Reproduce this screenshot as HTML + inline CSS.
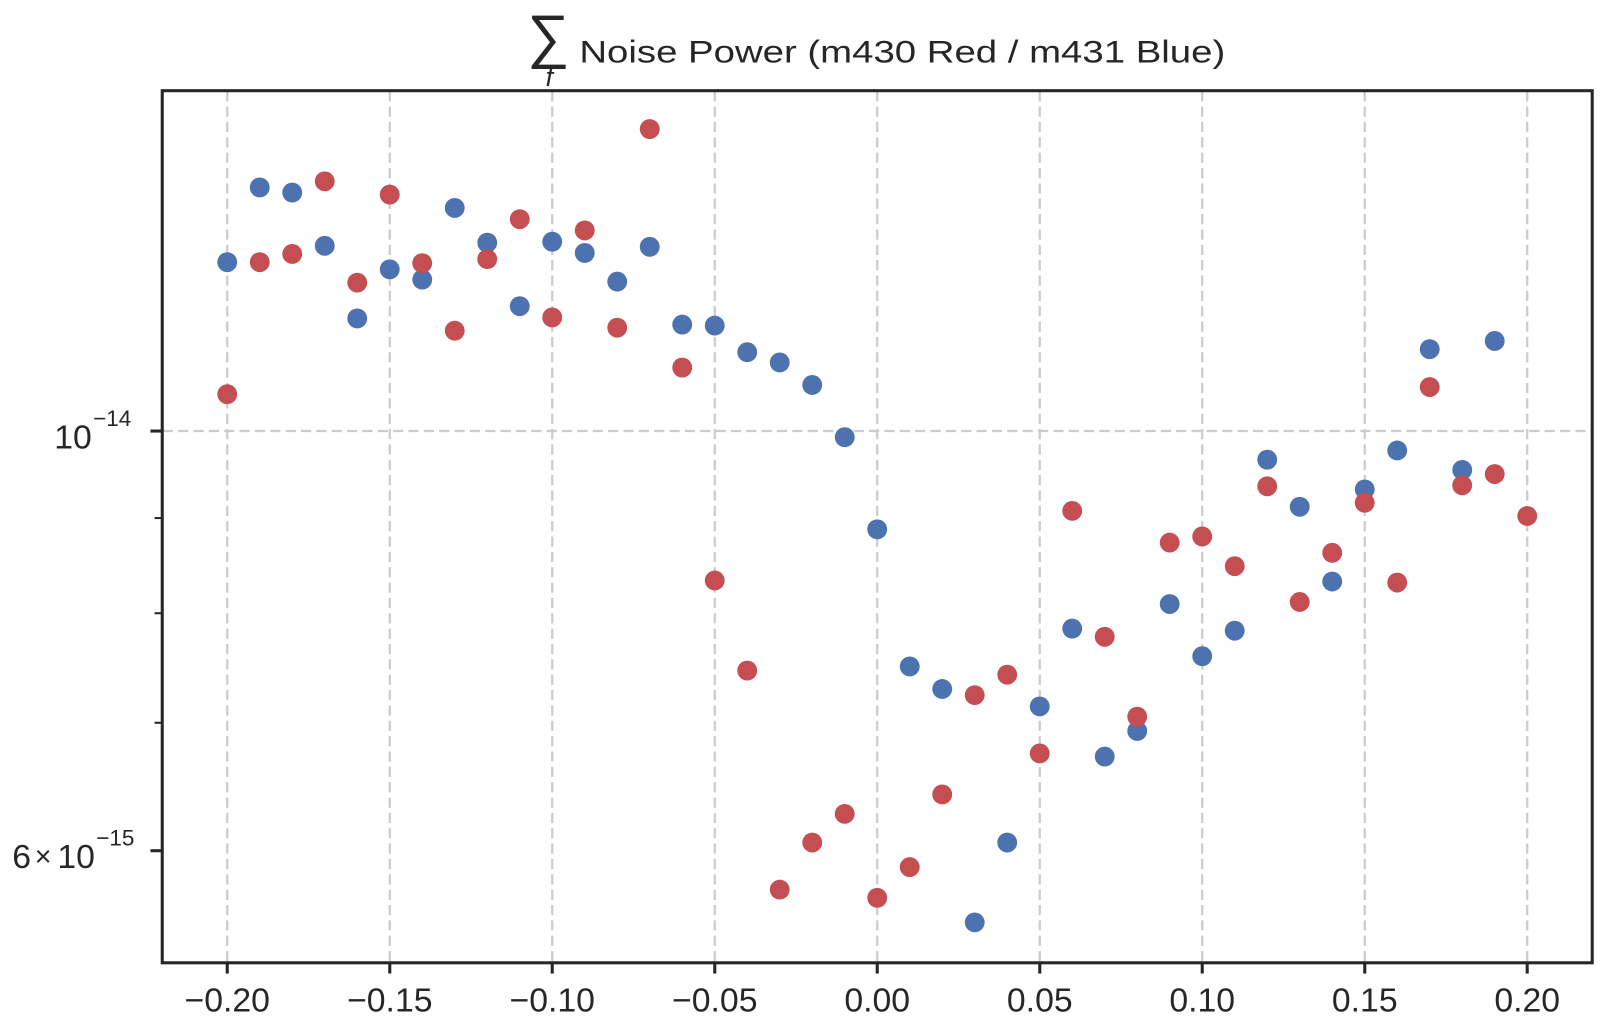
<!DOCTYPE html>
<html><head><meta charset="utf-8"><style>html,body{margin:0;padding:0;background:#fff}svg{display:block}</style></head>
<body>
<svg width="1605" height="1032" viewBox="0 0 1568 1008" xmlns="http://www.w3.org/2000/svg" font-family="Liberation Sans, Arial, sans-serif" fill="#262626">
<rect x="0" y="0" width="1568" height="1008" fill="#fff"/>
<g stroke="#cccccc" stroke-width="2.2" stroke-dasharray="10,5">
<line x1="222" y1="89" x2="222" y2="940"/><line x1="380.8" y1="89" x2="380.8" y2="940"/><line x1="539.5" y1="89" x2="539.5" y2="940"/><line x1="698.3" y1="89" x2="698.3" y2="940"/><line x1="857" y1="89" x2="857" y2="940"/><line x1="1015.8" y1="89" x2="1015.8" y2="940"/><line x1="1174.5" y1="89" x2="1174.5" y2="940"/><line x1="1333.3" y1="89" x2="1333.3" y2="940"/><line x1="1492" y1="89" x2="1492" y2="940"/>
<line x1="159" y1="421" x2="1555" y2="421"/>
</g>
<g id="pts"></g>
<rect x="158.5" y="88.5" width="1397" height="852" fill="none" stroke="#262626" stroke-width="3"/>
<g stroke="#262626" stroke-width="3">
<line x1="222" y1="940" x2="222" y2="951"/><line x1="380.8" y1="940" x2="380.8" y2="951"/><line x1="539.5" y1="940" x2="539.5" y2="951"/><line x1="698.3" y1="940" x2="698.3" y2="951"/><line x1="857" y1="940" x2="857" y2="951"/><line x1="1015.8" y1="940" x2="1015.8" y2="951"/><line x1="1174.5" y1="940" x2="1174.5" y2="951"/><line x1="1333.3" y1="940" x2="1333.3" y2="951"/><line x1="1492" y1="940" x2="1492" y2="951"/>
<line x1="147" y1="421" x2="158" y2="421"/><line x1="147" y1="831" x2="158" y2="831"/>
</g>
<g stroke="#262626" stroke-width="2">
<line x1="151" y1="506" x2="158" y2="506"/><line x1="151" y1="599" x2="158" y2="599"/><line x1="151" y1="706" x2="158" y2="706"/>
</g>
<g font-size="33" text-anchor="middle">
<text x="222" y="988">−0.20</text><text x="380.8" y="988">−0.15</text><text x="539.5" y="988">−0.10</text><text x="698.3" y="988">−0.05</text><text x="857" y="988">0.00</text><text x="1015.8" y="988">0.05</text><text x="1174.5" y="988">0.10</text><text x="1333.3" y="988">0.15</text><text x="1492" y="988">0.20</text>
</g>
<text x="53" y="438" font-size="33">10</text><text x="91" y="416" font-size="22">−14</text>
<text x="12" y="848" font-size="33">6</text><text x="34" y="846" font-size="28">×</text><text x="56" y="848" font-size="33">10</text><text x="94" y="826" font-size="22">−15</text>
<text x="515" y="55" font-size="58">∑</text>
<text x="533" y="84" font-size="26" font-style="italic">f</text>
<text x="566" y="61" font-size="31" textLength="631" lengthAdjust="spacingAndGlyphs">Noise Power (m430 Red / m431 Blue)</text>
</svg>
<script>
var B=[256,183,188,240,311,263,273,203,237,299,236,247,275,241,317,318,344,354,376,427,517,651,673,901,823,690,614,739,714,590,641,616,449,495,568,478,440,341,459,333];
var R=[385,256,248,177,276,190,257,323,253,214,310,225,320,126,359,567,655,869,823,795,877,847,776,679,659,736,499,622,700,530,524,553,475,588,540,491,569,378,474,463,504];
var g=document.getElementById('pts'),s='';
B.forEach(function(y,i){s+='<circle cx="'+(222+i*31.75)+'" cy="'+y+'" r="9.7" fill="#4c72b0"/>';});
R.forEach(function(y,i){s+='<circle cx="'+(222+i*31.75)+'" cy="'+y+'" r="9.7" fill="#c44e52"/>';});
g.innerHTML=s;
</script>
</body></html>
